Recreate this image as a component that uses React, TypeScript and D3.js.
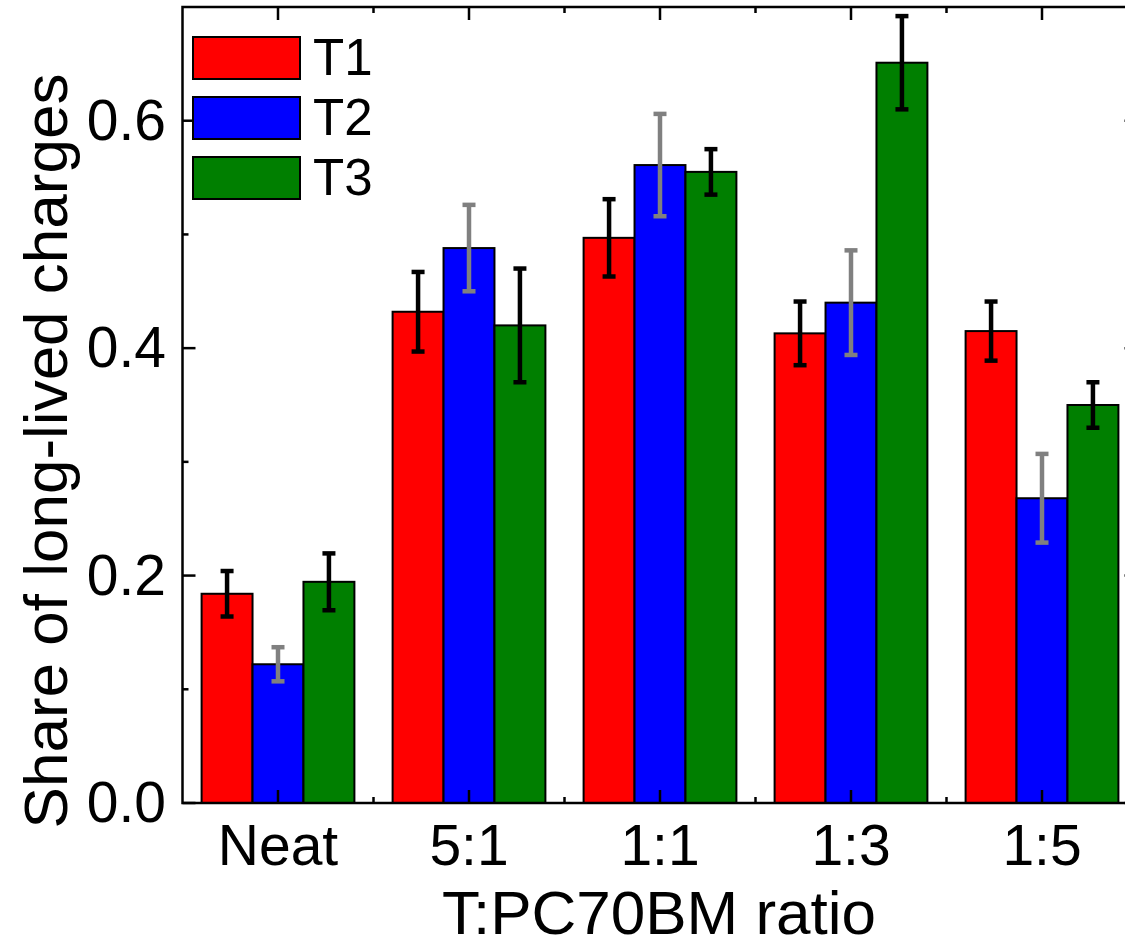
import React from "react";
import * as d3 from "d3";

const categories = ["Neat", "5:1", "1:1", "1:3", "1:5"];
const seriesNames = ["T1", "T2", "T3"];
const t1Values = [0.184, 0.432, 0.497, 0.413, 0.415];
const t1Errors = [0.020, 0.035, 0.034, 0.028, 0.026];
const t2Values = [0.122, 0.488, 0.561, 0.440, 0.268];
const t2Errors = [0.015, 0.038, 0.045, 0.046, 0.039];
const t3Values = [0.1945, 0.420, 0.555, 0.651, 0.350];
const t3Errors = [0.025, 0.050, 0.020, 0.041, 0.020];
const seriesColors = ["#ff0000", "#0000ff", "#007f00"];
const errorColors = ["#000000", "#808080", "#000000"];
const yTicks = [0.0, 0.2, 0.4, 0.6];
const yMinorTicks = [0.1, 0.3, 0.5];

const W = 1125;
const H = 943;
const FONT = "'Liberation Sans', Arial, Helvetica, sans-serif";

export default function App() {
  const left = 182.5;
  const right = 1137.5;
  const top = 7;
  const bottom = 803;

  const x = d3.scaleBand<string>().domain(categories).range([left, right]).paddingInner(0.2).paddingOuter(0.1);
  const xs = d3.scaleBand<string>().domain(seriesNames).range([0, x.bandwidth()]).padding(0);
  const y = d3.scaleLinear().domain([0, 0.7]).range([bottom, top]);

  const values = [t1Values, t2Values, t3Values];
  const errors = [t1Errors, t2Errors, t3Errors];

  const majorLen = 13;
  const minorLen = 6;
  const step = x.step();
  const centers = categories.map((c) => (x(c) as number) + x.bandwidth() / 2);
  const minorX = categories.slice(1).map((c) => (x(c) as number) - (step - x.bandwidth()) / 2);

  const capW = 13;

  return (
    <svg width={W} height={H} style={{ position: "absolute", left: 0, top: 0, background: "#fff" }} fontFamily={FONT}>
      <rect x={0} y={0} width={W} height={H} fill="#fff" />
      {/* bars */}
      {seriesNames.map((s, si) =>
        categories.map((c, ci) => {
          const bx = (x(c) as number) + (xs(s) as number);
          const v = values[si][ci];
          return (
            <rect
              key={s + c}
              x={bx}
              y={y(v)}
              width={xs.bandwidth()}
              height={y(0) - y(v)}
              fill={seriesColors[si]}
              stroke="#000"
              strokeWidth={2}
            />
          );
        })
      )}
      {/* error bars */}
      {seriesNames.map((s, si) =>
        categories.map((c, ci) => {
          const cx = (x(c) as number) + (xs(s) as number) + xs.bandwidth() / 2;
          const v = values[si][ci];
          const e = errors[si][ci];
          const col = errorColors[si];
          return (
            <g key={"e" + s + c} stroke={col} strokeWidth={4.5}>
              <line x1={cx} x2={cx} y1={y(v + e)} y2={y(v - e)} />
              <line x1={cx - capW / 2} x2={cx + capW / 2} y1={y(v + e)} y2={y(v + e)} />
              <line x1={cx - capW / 2} x2={cx + capW / 2} y1={y(v - e)} y2={y(v - e)} />
            </g>
          );
        })
      )}
      {/* frame */}
      <rect x={left} y={top} width={right - left} height={bottom - top} fill="none" stroke="#000" strokeWidth={2.5} />
      {/* x ticks */}
      {centers.map((cx, i) => (
        <g key={"xt" + i} stroke="#000" strokeWidth={2.5}>
          <line x1={cx} x2={cx} y1={bottom} y2={bottom - majorLen} />
          <line x1={cx} x2={cx} y1={top} y2={top + majorLen} />
        </g>
      ))}
      {minorX.map((mx, i) => (
        <g key={"xm" + i} stroke="#000" strokeWidth={2.5}>
          <line x1={mx} x2={mx} y1={bottom} y2={bottom - minorLen} />
          <line x1={mx} x2={mx} y1={top} y2={top + minorLen} />
        </g>
      ))}
      {/* y ticks */}
      {yTicks.map((t) => (
        <g key={"yt" + t} stroke="#000" strokeWidth={2.5}>
          <line x1={left} x2={left + majorLen} y1={y(t)} y2={y(t)} />
          <line x1={right} x2={right - majorLen} y1={y(t)} y2={y(t)} />
        </g>
      ))}
      {yMinorTicks.map((t) => (
        <g key={"ym" + t} stroke="#000" strokeWidth={2.5}>
          <line x1={left} x2={left + minorLen} y1={y(t)} y2={y(t)} />
          <line x1={right} x2={right - minorLen} y1={y(t)} y2={y(t)} />
        </g>
      ))}
      {/* tick labels */}
      {yTicks.map((t) => (
        <text key={"yl" + t} x={166} y={y(t) + 19} textAnchor="end" fontSize={57} fill="#000">
          {d3.format(".1f")(t)}
        </text>
      ))}
      {categories.map((c, i) => (
        <text key={"xl" + c} x={centers[i]} y={865} textAnchor="middle" fontSize={57} fill="#000">
          {c}
        </text>
      ))}
      {/* axis titles */}
      <text x={659} y={934} textAnchor="middle" fontSize={62} fill="#000">
        T:PC70BM ratio
      </text>
      <text
        transform={`translate(67, 451) rotate(-90)`}
        textAnchor="middle"
        fontSize={62}
        fill="#000"
      >
        Share of long-lived charges
      </text>
      {/* legend */}
      {seriesNames.map((s, i) => (
        <g key={"lg" + s}>
          <rect x={193} y={37 + i * 60} width={107} height={42} fill={seriesColors[i]} stroke="#000" strokeWidth={2} />
          <text x={313} y={75 + i * 60} fontSize={51} fill="#000">
            {s}
          </text>
        </g>
      ))}
    </svg>
  );
}
